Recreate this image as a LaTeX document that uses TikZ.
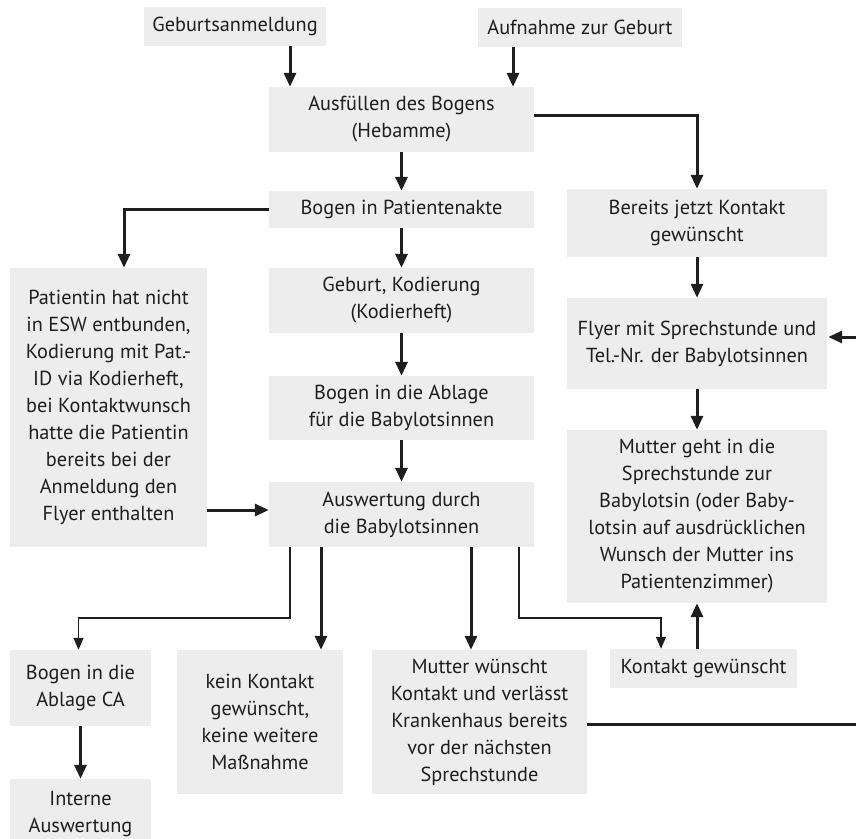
\documentclass[tikz,border=0pt]{standalone}
\usepackage{fontspec}
\setmainfont{PT Sans}
\usetikzlibrary{arrows.meta,calc}
\definecolor{boxgray}{HTML}{EDEDED}
\definecolor{ink}{HTML}{1E1E1E}
\begin{document}
\begin{tikzpicture}[x=1pt,y=-1pt,
    box/.style={fill=boxgray,inner sep=0pt,align=center,text=ink,
      font=\fontsize{20.3pt}{27pt}\selectfont},
    thk/.style={draw=ink,line width=3pt,-{Triangle[length=14pt,width=12pt]}},
    thn/.style={draw=ink,line width=1.4pt,-{Triangle[length=12pt,width=10pt]}},
    line/.style={draw=ink,line width=3pt}]

    \useasboundingbox(0,0)rectangle(856,838);

    \node[box,minimum width=182,minimum height=39](anm)at(235,26.5){Geburtsanmeldung};
    \node[box,minimum width=204,minimum height=39](aufn)at(580,27.5){Aufnahme zur Geburt};
    \node[box,minimum width=265,minimum height=65](ausf)at(401.5,119.5){Ausfüllen des Bogens\\(Hebamme)};
    \node[box,minimum width=265,minimum height=37](akte)at(401.5,209.5){Bogen in Patientenakte};
    \node[box,minimum width=260,minimum height=68](bereits)at(697,223){Bereits jetzt Kontakt\\gewünscht};
    \node[box,minimum width=197,minimum height=279](patin)at(108.5,407.5){Patientin hat nicht\\in ESW entbunden,\\Kodierung mit Pat.-\\ID via Kodierheft,\\bei Kontaktwunsch\\hatte die Patientin\\bereits bei der\\Anmeldung den\\Flyer enthalten};
    \node[box,minimum width=265,minimum height=65](kod)at(401.5,300.5){Geburt, Kodierung\\(Kodierheft)};
    \node[box,minimum width=265,minimum height=64](ablage)at(401.5,408){Bogen in die Ablage\\für die Babylotsinnen};
    \node[box,minimum width=265,minimum height=65](ausw)at(401.5,514.5){Auswertung durch\\die Babylotsinnen};
    \node[box,minimum width=260,minimum height=91](flyer)at(697,343.5){Flyer mit Sprechstunde und\\Tel.-Nr. der Babylotsinnen};
    \node[box,minimum width=260,minimum height=173](geht)at(697,516.5){Mutter geht in die\\Sprechstunde zur\\Babylotsin (oder Baby-\\lotsin auf ausdrücklichen\\Wunsch der Mutter ins\\Patientenzimmer)};
    \node[box,minimum width=187,minimum height=39](kontakt)at(703.5,668.5){Kontakt gewünscht};
    \node[box,minimum width=141,minimum height=76](ca)at(80.5,688){Bogen in die\\Ablage CA};
    \node[box,minimum width=141,minimum height=71](intern)at(80.5,814.5){Interne\\Auswertung};
    \node[box,minimum width=166,minimum height=144](kein)at(260,722){kein Kontakt\\gewünscht,\\keine weitere\\Maßnahme};
    \node[box,minimum width=215,minimum height=144](mw)at(479.5,722){Mutter wünscht\\Kontakt und verlässt\\Krankenhaus bereits\\vor der nächsten\\Sprechstunde};

    \coordinate(bus)at(0,618);
    \coordinate(rand)at(858,0);

    % oben
    \draw[thk]([xshift=55pt]anm.south)--([xshift=55pt]anm.south|-ausf.north);
    \draw[thk]([xshift=-67pt]aufn.south)--([xshift=-67pt]aufn.south|-ausf.north);
    \draw[thk]([yshift=4.5pt]ausf.east)-|(bereits.north);
    \draw[thk](akte.west)-|([xshift=15.5pt]patin.north);
    \foreach\A/\B in{ausf/akte,akte/kod,kod/ablage,ablage/ausw,bereits/flyer,flyer/geht,ca/intern}
      \draw[thk](\A.south)--(\B.north);
    \draw[thk]([yshift=4.5pt]ausw.west-|patin.east)--([yshift=4.5pt]ausw.west);
    \draw[thk](kontakt.north-|geht.south)--(geht.south);

    % unten
    \draw[thk]([xshift=-80.5pt]ausw.south)--([xshift=-80.5pt]ausw.south|-kein.north);
    \draw[thk]([xshift=69.5pt]ausw.south)--([xshift=69.5pt]ausw.south|-mw.north);
    \draw[thn]([xshift=-111.5pt]ausw.south)--([xshift=-111.5pt]ausw.south|-bus)-|([xshift=-2pt]ca.north);
    \draw[thn]([xshift=117.5pt]ausw.south)--([xshift=117.5pt]ausw.south|-bus)-|([xshift=-42.5pt]kontakt.north);

    % rechts
    \draw[line]([yshift=-2pt]mw.east)--([yshift=-2pt]mw.east-|rand)--([yshift=6.5pt]flyer.east-|rand);
    \draw[thk]([yshift=6.5pt]flyer.east-|rand)--([yshift=6.5pt,xshift=1pt]flyer.east);
  \end{tikzpicture}
\end{document}
